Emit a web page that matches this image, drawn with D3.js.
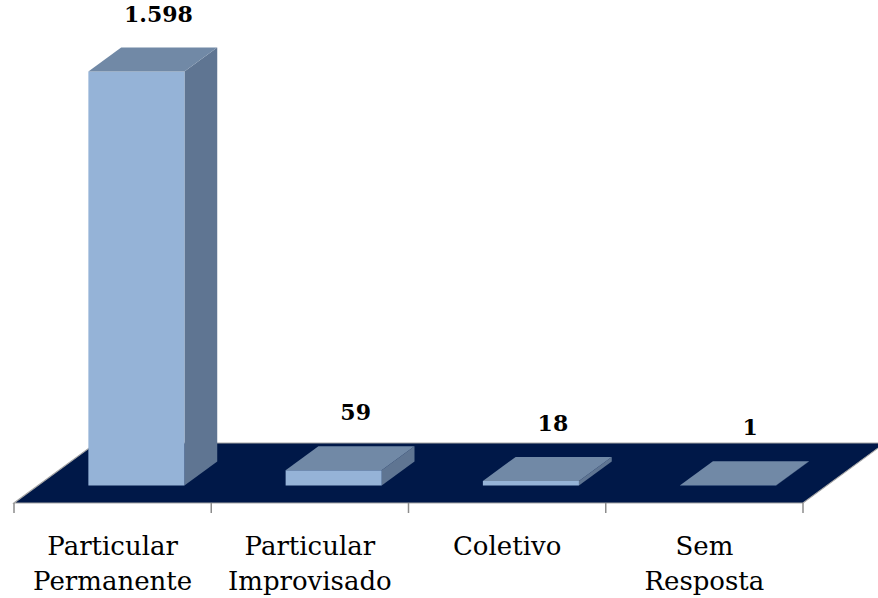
<!DOCTYPE html>
<html>
<head>
<meta charset="utf-8">
<script src="https://cdn.jsdelivr.net/npm/d3@7/dist/d3.min.js"></script>
<style>
  html, body { margin: 0; padding: 0; background: #ffffff; }
  svg { display: block; }
</style>
</head>
<body>
<svg id="chart" width="878" height="598"></svg>
<script>
// ---- data ----
const categories = [["Particular", "Permanente"], ["Particular", "Improvisado"], ["Coletivo"], ["Sem", "Resposta"]];
const values = [1598, 59, 18, 1];
const valueLabels = ["1.598", "59", "18", "1"];

// ---- layout ----
const svg = d3.select("#chart");
const floorFrontY = 503;
const depthDX = 82, depthDY = 60;          // floor depth projection
const zFront = 0.29, zBack = 0.69;          // bar position in depth (fraction)
const barFrac = 0.487;

const keys = categories.map((c, i) => i);
const x = d3.scaleBand().domain(keys).range([14, 803]).padding(0);
const y = d3.scaleLinear().domain([0, 1598]).range([0, 414]);

const colors = { front: "#95b3d7", top: "#7189a6", side: "#5f7592", floor: "#001848" };

// floor
const x0 = x.range()[0], x1 = x.range()[1];
svg.append("polygon")
  .attr("points", [
    [x0, floorFrontY], [x1, floorFrontY],
    [x1 + depthDX, floorFrontY - depthDY], [x0 + depthDX, floorFrontY - depthDY]
  ].map(p => p.join(",")).join(" "))
  .attr("fill", colors.floor)
  .attr("stroke", "#a6a6a6")
  .attr("stroke-width", 1.2);

// axis ticks
const tickPositions = keys.map(k => x(k)).concat([x1]);
svg.selectAll("line.tick").data(tickPositions).enter().append("line")
  .attr("x1", d => d).attr("x2", d => d)
  .attr("y1", floorFrontY).attr("y2", floorFrontY + 10)
  .attr("stroke", "#8c8c8c").attr("stroke-width", 1.5);

// bars
const bw = x.bandwidth() * barFrac;
const fdx = depthDX * zFront, fdy = depthDY * zFront;
const bdx = depthDX * (zBack - zFront), bdy = depthDY * (zBack - zFront);

const g = svg.append("g");
values.forEach((v, i) => {
  const left = x(i) + (x.bandwidth() - bw) / 2 + fdx;
  const right = left + bw;
  const base = floorFrontY - fdy;
  const top = base - y(v);
  const pts = a => a.map(p => p.join(",")).join(" ");
  // side
  g.append("polygon").attr("points", pts([[right, base], [right + bdx, base - bdy], [right + bdx, top - bdy], [right, top]]))
    .attr("fill", colors.side);
  // front
  g.append("polygon").attr("points", pts([[left, base], [right, base], [right, top], [left, top]]))
    .attr("fill", colors.front);
  // top
  g.append("polygon").attr("points", pts([[left, top], [right, top], [right + bdx, top - bdy], [left + bdx, top - bdy]]))
    .attr("fill", colors.top);
  // value label
  g.append("text")
    .attr("x", left + bw / 2 + 22)
    .attr("y", top - bdy - 26)
    .attr("text-anchor", "middle")
    .attr("font-family", "'DejaVu Serif', serif")
    .attr("font-weight", "bold")
    .attr("font-size", 22)
    .attr("fill", "#000")
    .text(valueLabels[i]);
});

// category labels
categories.forEach((lines, i) => {
  const t = svg.append("text")
    .attr("text-anchor", "middle")
    .attr("font-family", "'DejaVu Serif', serif")
    .attr("font-size", 26)
    .attr("fill", "#000");
  lines.forEach((ln, j) => {
    t.append("tspan")
      .attr("x", x(i) + x.bandwidth() / 2)
      .attr("y", 555 + j * 35)
      .text(ln);
  });
});
</script>
</body>
</html>
